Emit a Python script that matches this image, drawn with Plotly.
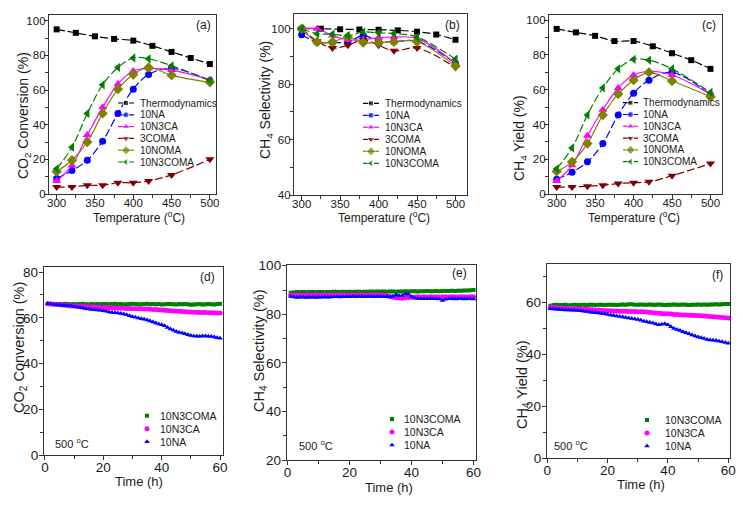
import plotly.graph_objects as go

W, H = 743, 507
FONT = "Liberation Sans, Arial, sans-serif"
TXT = "#1a1a1a"

# ---------------- data: temperature screening ----------------
TEMP_THERMO = [300, 325, 350, 375, 400, 425, 450, 475, 500]
TEMP_CAT = [300, 320, 340, 360, 380, 400, 420, 450, 500]
SERIES = ["Thermodynamics", "10NA", "10N3CA", "3COMA", "10NOMA", "10N3COMA"]

CONV_THERMO = [95, 93, 91, 89.5, 88.5, 85.5, 82, 78.5, 75]
CONV_10NA = [9, 13.5, 19.5, 30.5, 46.5, 60.5, 69, 72.5, 65.5]
CONV_10N3CA = [7.5, 16.5, 34, 50, 63.5, 71, 72.5, 71.5, 66]
CONV_3COMA = [4, 4, 5, 5, 6.5, 6.5, 7.5, 11, 20]
CONV_10NOMA = [13, 19.5, 30, 46.5, 60.5, 69, 73, 68.5, 64.5]
CONV_10N3COMA = [14.5, 27, 46.5, 63, 73, 78.5, 78, 74, 65.5]

SEL_THERMO = [100, 100, 99.8, 99.7, 99.6, 99.4, 98.9, 97.9, 96]
SEL_10NA = [97.8, 95.2, 95, 95.2, 97.5, 95.5, 95.3, 95.5, 87.5]
SEL_10N3CA = [100, 100, 97.5, 96, 96, 96.8, 97, 96.5, 87.5]
SEL_3COMA = [100, 95.5, 93, 94, 96, 94, 92, 93, 86]
SEL_10NOMA = [100, 95.2, 95.2, 97, 95, 95, 95.3, 95.3, 86.5]
SEL_10N3COMA = [100, 98.2, 98, 97.5, 98.8, 98.5, 98.3, 97, 89]

YLD_THERMO = [95, 93, 91, 88, 88, 85, 81, 77, 72]
YLD_10NA = [8.5, 12.5, 18.5, 29, 45.5, 58, 65.5, 70, 57]
YLD_10N3CA = [7.5, 16.5, 33.5, 48.5, 61, 68.5, 70.5, 68.5, 57.5]
YLD_3COMA = [4, 4, 4.5, 5, 6, 6.5, 7, 10.5, 17.5]
YLD_10NOMA = [13, 18.5, 29, 45.5, 57.5, 65.5, 70, 65, 56]
YLD_10N3COMA = [14.5, 26.5, 45.5, 61, 72, 77.5, 77, 72, 58.5]

# ---------------- data: stability at 500 C ----------------
TIME_H = list(range(1, 61))
STAB_SERIES = ["10N3COMA", "10N3CA", "10NA"]

STAB_CONV_10N3COMA = [66.0, 66.1, 65.9, 66.0, 66.0, 65.9, 66.1, 66.0, 65.9, 66.0,
                      65.9, 66.0, 66.1, 65.9, 65.8, 66.0, 65.9, 66.0, 65.9, 66.0,
                      66.0, 65.9, 66.0, 66.1, 65.9, 66.0, 65.8, 65.9, 66.0, 66.1,
                      66.0, 65.9, 65.9, 66.0, 66.1, 65.9, 66.0, 65.9, 66.0, 65.8,
                      65.9, 66.0, 66.0, 65.9, 65.8, 66.0, 65.9, 66.0, 65.9, 65.7,
                      65.8, 65.9, 66.0, 65.8, 65.9, 66.0, 65.9, 65.8, 66.0, 66.1]
STAB_CONV_10N3CA = [66.1, 66.0, 65.9, 65.8, 65.7, 65.6, 65.5, 65.4, 65.2, 65.1,
                    65.0, 64.9, 64.9, 64.8, 64.7, 64.7, 64.6, 64.6, 64.5, 64.5,
                    64.5, 64.4, 64.4, 64.3, 64.3, 64.2, 64.2, 64.1, 64.1, 64.0,
                    64.0, 63.9, 63.9, 63.8, 63.8, 63.7, 63.6, 63.6, 63.5, 63.4,
                    63.3, 63.2, 63.1, 63.0, 62.9, 62.8, 62.7, 62.6, 62.5, 62.5,
                    62.4, 62.4, 62.3, 62.3, 62.3, 62.2, 62.2, 62.2, 62.1, 62.1]
STAB_CONV_10NA = [66.2, 66.0, 65.9, 65.7, 65.6, 65.5, 65.4, 65.3, 65.1, 64.9,
                  64.7, 64.5, 64.3, 64.0, 63.8, 63.6, 63.5, 63.4, 63.3, 63.1,
                  62.8, 62.5, 62.3, 62.2, 62.1, 61.9, 61.7, 61.3, 60.9, 60.5,
                  60.2, 59.9, 59.6, 59.3, 59.0, 58.6, 58.1, 57.7, 57.3, 57.0,
                  56.5, 55.8, 55.1, 54.5, 54.0, 53.6, 53.3, 53.0, 52.6, 52.2,
                  52.0, 51.9, 51.9, 52.0, 52.0, 51.9, 51.8, 51.6, 51.3, 51.1]

STAB_SEL_10N3COMA = [88.9, 89.0, 89.2, 89.1, 89.2, 89.1, 89.2, 89.2, 89.1, 89.2,
                     89.2, 89.1, 89.2, 89.2, 89.3, 89.2, 89.2, 89.3, 89.2, 89.3,
                     89.2, 89.3, 89.3, 89.2, 89.3, 89.3, 89.4, 89.3, 89.4, 89.3,
                     89.4, 89.3, 89.4, 89.4, 89.3, 89.4, 89.4, 89.5, 89.4, 89.5,
                     89.5, 89.4, 89.5, 89.5, 89.6, 89.5, 89.5, 89.6, 89.5, 89.6,
                     89.6, 89.6, 89.7, 89.6, 89.7, 89.7, 89.8, 89.8, 89.9, 90.0]
STAB_SEL_10N3CA = [87.9, 87.8, 87.9, 87.8, 87.8, 87.9, 87.8, 87.8, 87.9, 87.8,
                   87.8, 87.9, 87.8, 87.8, 87.9, 87.9, 87.8, 87.9, 87.8, 87.9,
                   87.9, 87.8, 87.9, 87.9, 87.8, 87.9, 87.9, 87.8, 87.9, 87.8,
                   87.8, 87.6, 87.3, 87.0, 86.8, 86.7, 86.6, 86.8, 86.9, 87.0,
                   87.1, 87.2, 87.1, 87.2, 87.1, 87.2, 87.1, 87.2, 87.1, 87.2,
                   87.2, 87.1, 87.2, 87.2, 87.1, 87.2, 87.2, 87.1, 87.2, 87.2]
STAB_SEL_10NA = [87.3, 87.1, 86.9, 87.0, 87.0, 86.9, 87.0, 87.0, 86.9, 87.0,
                 87.0, 87.1, 87.0, 87.1, 87.2, 87.2, 87.1, 87.2, 87.2, 87.2,
                 87.3, 87.2, 87.3, 87.3, 87.2, 87.3, 87.3, 87.2, 87.3, 87.3,
                 87.2, 87.3, 87.2, 87.4, 88.0, 87.6, 87.7, 88.4, 88.3, 87.2,
                 86.7, 86.5, 86.5, 86.4, 86.4, 86.5, 86.4, 86.4, 86.3, 85.7,
                 86.2, 86.4, 86.4, 86.3, 86.4, 86.4, 86.3, 86.4, 86.4, 86.3]

STAB_YLD_10N3COMA = [58.6, 58.9, 59.0, 58.9, 58.9, 59.0, 58.8, 58.9, 59.0, 58.9,
                     58.9, 59.0, 58.9, 59.0, 59.0, 58.9, 59.0, 59.0, 58.9, 59.0,
                     59.0, 59.0, 58.9, 59.0, 59.1, 59.0, 59.2, 59.2, 59.0, 59.0,
                     59.1, 59.0, 59.0, 59.1, 59.0, 59.0, 59.1, 59.0, 58.9, 59.0,
                     59.0, 59.1, 59.0, 59.0, 59.1, 59.0, 58.9, 59.0, 59.0, 59.1,
                     59.0, 59.1, 59.0, 59.1, 59.1, 59.2, 59.1, 59.2, 59.3, 59.3]
STAB_YLD_10N3CA = [58.0, 57.9, 57.9, 57.8, 57.8, 57.7, 57.6, 57.6, 57.5, 57.5,
                   57.4, 57.3, 57.3, 57.2, 57.1, 57.0, 57.0, 56.9, 56.8, 56.7,
                   56.7, 56.6, 56.6, 56.5, 56.5, 56.5, 56.4, 56.4, 56.4, 56.3,
                   56.3, 56.3, 56.2, 56.1, 55.9, 55.8, 55.7, 55.6, 55.5, 55.5,
                   55.4, 55.3, 55.3, 55.2, 55.1, 55.1, 55.0, 55.0, 54.9, 54.9,
                   54.8, 54.7, 54.6, 54.5, 54.4, 54.3, 54.2, 54.1, 54.0, 53.9]
STAB_YLD_10NA = [57.5, 57.4, 57.3, 57.2, 57.1, 57.0, 57.0, 56.9, 56.9, 56.8,
                 56.7, 56.5, 56.4, 56.2, 56.0, 55.9, 55.8, 55.6, 55.5, 55.3,
                 55.1, 54.9, 54.7, 54.5, 54.3, 54.1, 53.9, 53.7, 53.5, 53.3,
                 53.0, 52.7, 52.5, 52.2, 52.0, 51.6, 51.3, 51.5, 51.7, 51.3,
                 50.5, 49.9, 49.5, 49.1, 48.6, 48.2, 47.8, 47.4, 47.0, 46.6,
                 46.3, 46.0, 45.6, 45.4, 45.3, 45.2, 45.0, 44.8, 44.5, 44.2]

PANEL_LABELS = ["(a)", "(b)", "(c)", "(d)", "(e)", "(f)"]
TEMP_NOTE = "500 <sup>o</sup>C"
TEMP_TITLE = "Temperature (<sup>o</sup>C)"
TIME_TITLE = "Time (h)"
Y_TITLES = ["CO<sub>2</sub> Conversion (%)", "CH<sub>4</sub> Selectivity (%)",
            "CH<sub>4</sub> Yield (%)", "CO<sub>2</sub> Conversion (%)",
            "CH<sub>4</sub> Selectivity (%)", "CH<sub>4</sub> Yield (%)"]

# ---------------- styles ----------------
STYLE = {
    "Thermodynamics": dict(color="#000000", symbol="square", size=6, dash="8px,3px"),
    "10NA": dict(color="#0000ff", symbol="circle", size=7, dash="8px,3px"),
    "10N3CA": dict(color="#ff00ff", symbol="triangle-up", size=8, dash="solid"),
    "3COMA": dict(color="#800000", symbol="triangle-down", size=8, dash="8px,3px"),
    "10NOMA": dict(color="#808000", symbol="diamond", size=8, dash="solid"),
    "10N3COMA": dict(color="#008000", symbol="triangle-left", size=8, dash="8px,3px"),
}
STAB_STYLE = {
    "10N3COMA": dict(color="#008000", symbol="square", size=4),
    "10N3CA": dict(color="#ff00ff", symbol="circle", size=5),
    "10NA": dict(color="#0000ff", symbol="triangle-up", size=5),
}

# pixel boxes (left, top, right, bottom) of each plot area
BOXES = [(49, 15, 216, 194), (294, 14, 467, 195), (549, 15, 722, 194),
         (44, 267, 223, 455), (287, 265, 476, 460), (547, 264, 730, 458)]
# title centres in pixels
X_TITLE_POS = [(139, 217), (384, 217), (634, 217), (139, 481), (389, 487), (641, 484)]
Y_TITLE_POS = [(24, 116), (266, 100), (520, 138), (20, 348), (260, 351), (523, 385)]

fig = go.Figure()

def dom(box):
    l, t, r, b = box
    return [l / W, r / W], [1 - b / H, 1 - t / H]

def axis_common(fs, so):
    return dict(showline=True, linecolor="#333333", linewidth=1.3, mirror=True,
                ticks="outside", ticklen=4, tickwidth=1.2, tickcolor="#333333",
                showgrid=False, zeroline=False, automargin=False, ticklabelstandoff=so,
                tickfont=dict(family=FONT, size=fs, color=TXT))

def setup_axes(i, xr, xd, xm, yr, yd, ym, tfs, xso, yso):
    n = "" if i == 0 else str(i + 1)
    xd_, yd_ = dom(BOXES[i])
    xa = axis_common(tfs, xso)
    xa.update(domain=xd_, range=xr, dtick=xd, tick0=0, anchor="y" + n,
              minor=dict(dtick=xm, ticks="outside", ticklen=2.5, tickwidth=1, tickcolor="#333333"))
    ya = axis_common(tfs, yso)
    ya.update(domain=yd_, range=yr, dtick=yd, tick0=0, anchor="x" + n,
              minor=dict(dtick=ym, ticks="outside", ticklen=2.5, tickwidth=1, tickcolor="#333333"))
    fig.update_layout(**{"xaxis" + n: xa, "yaxis" + n: ya})
    return "x" + n, "y" + n

specs_top = [
    ([290, 508], [0, 103.3],
     [CONV_THERMO, CONV_10NA, CONV_10N3CA, CONV_3COMA, CONV_10NOMA, CONV_10N3COMA]),
    ([290, 515], [40, 105.3],
     [SEL_THERMO, SEL_10NA, SEL_10N3CA, SEL_3COMA, SEL_10NOMA, SEL_10N3COMA]),
    ([290, 515], [0, 103],
     [YLD_THERMO, YLD_10NA, YLD_10N3CA, YLD_3COMA, YLD_10NOMA, YLD_10N3COMA]),
]
for i, (xr, yr, data) in enumerate(specs_top):
    xa, ya = setup_axes(i, xr, 50, 25, yr, 20, 10, 11.5, -6, -4)
    for name, vals in zip(SERIES, data):
        st = STYLE[name]
        xs = TEMP_THERMO if name == "Thermodynamics" else TEMP_CAT
        fig.add_trace(go.Scatter(
            x=xs, y=vals, xaxis=xa, yaxis=ya, mode="lines+markers", showlegend=False,
            line=dict(color=st["color"], width=1.2, dash=st["dash"], shape="spline"),
            marker=dict(color=st["color"], symbol=st["symbol"], size=st["size"])))

specs_bot = [
    ([-0.3, 61], [0, 82.2], [STAB_CONV_10N3COMA, STAB_CONV_10N3CA, STAB_CONV_10NA]),
    ([-0.2, 60.8], [20, 100.3], [STAB_SEL_10N3COMA, STAB_SEL_10N3CA, STAB_SEL_10NA]),
    ([-0.1, 60.6], [0, 74.7], [STAB_YLD_10N3COMA, STAB_YLD_10N3CA, STAB_YLD_10NA]),
]
for j, (xr, yr, data) in enumerate(specs_bot):
    xa, ya = setup_axes(j + 3, xr, 20, 10, yr, 20, 10, 13.5, -4, -2)
    for name, vals in zip(STAB_SERIES, data):
        st = STAB_STYLE[name]
        fig.add_trace(go.Scatter(
            x=TIME_H, y=vals, xaxis=xa, yaxis=ya, mode="markers", showlegend=False,
            marker=dict(color=st["color"], symbol=st["symbol"], size=st["size"])))

# ---------------- overlay pixel axis for custom legends ----------------
fig.update_layout(
    xaxis7=dict(domain=[0, 1], range=[0, W], visible=False, fixedrange=True,
                anchor="y7", automargin=False),
    yaxis7=dict(domain=[0, 1], range=[H, 0], visible=False, fixedrange=True,
                anchor="x7", automargin=False),
)

annotations = []

def px_ann(px, py, text, size, xanchor="center", angle=0):
    annotations.append(dict(x=px / W, y=1 - py / H, xref="paper", yref="paper", text=text,
                            showarrow=False, xanchor=xanchor, yanchor="middle",
                            textangle=angle, font=dict(family=FONT, size=size, color=TXT)))

# top-row legends: (line x0, line x1, text x, first row y, row step)
TOP_LEG = [(118, 134, 138, 103, 11.8), (363, 379, 383, 103.3, 12.0), (623, 638, 641, 102.7, 11.8)]
for (x0, x1, xt, yt, dy) in TOP_LEG:
    for k, name in enumerate(SERIES):
        st = STYLE[name]
        yy = yt + k * dy
        fig.add_trace(go.Scatter(
            x=[x0, (x0 + x1) / 2, x1], y=[yy, yy, yy], xaxis="x7", yaxis="y7",
            mode="lines+markers", showlegend=False, hoverinfo="skip",
            line=dict(color=st["color"], width=1.2, dash=st["dash"]),
            marker=dict(color=st["color"], symbol=st["symbol"], size=[0, st["size"] - 1, 0])))
        px_ann(xt, yy, name, 10, "left")
# bottom-row legends: (marker x, text x, first row y, row step)
BOT_LEG = [(147, 158, 415.7, 13), (392, 402, 419, 13), (647, 663, 420, 13)]
for (xm, xt, yt, dy) in BOT_LEG:
    for k, name in enumerate(STAB_SERIES):
        st = STAB_STYLE[name]
        yy = yt + k * dy
        fig.add_trace(go.Scatter(
            x=[xm], y=[yy], xaxis="x7", yaxis="y7", mode="markers", showlegend=False,
            hoverinfo="skip",
            marker=dict(color=st["color"], symbol=st["symbol"], size=st["size"])))
        px_ann(xt, yy, name, 10.5, "left")

# axis titles
for k, (px, py) in enumerate(X_TITLE_POS):
    px_ann(px, py, TEMP_TITLE if k < 3 else TIME_TITLE, 12 if k < 3 else 13)
for k, (px, py) in enumerate(Y_TITLE_POS):
    px_ann(px, py, Y_TITLES[k], 14 if k < 3 else 14.5, angle=-90)

# panel labels
LABEL_POS = [(213, 25), (462, 25), (718, 25), (217, 277), (469, 273), (725, 275)]
for lab, (px, py) in zip(PANEL_LABELS, LABEL_POS):
    px_ann(px, py, lab, 12, "right")
# temperature notes
for (px, py) in [(53, 443), (297, 445), (552, 445)]:
    px_ann(px, py, TEMP_NOTE, 11, "left")

fig.update_layout(
    width=W, height=H, margin=dict(l=0, r=0, t=0, b=0, pad=0, autoexpand=False),
    paper_bgcolor="white", plot_bgcolor="rgba(0,0,0,0)",
    font=dict(family=FONT, color=TXT),
    showlegend=False, annotations=annotations,
)

fig.write_html("out.html", config={"displayModeBar": False},
               post_script="document.body.style.margin='0px';")
